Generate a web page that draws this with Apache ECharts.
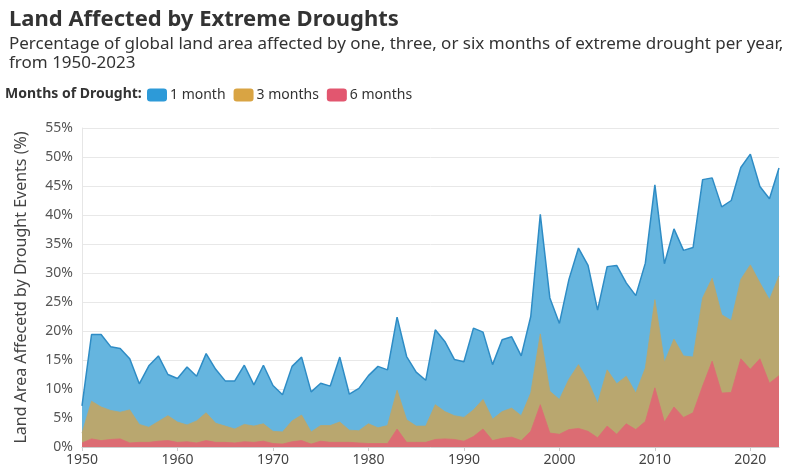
<!DOCTYPE html>
<html>
<head>
<meta charset="utf-8">
<script src="https://cdn.jsdelivr.net/npm/echarts@6/dist/echarts.min.js"></script>
<style>html,body{margin:0;padding:0;background:#fff}#c{width:800px;height:473px}</style>
</head>
<body>
<div id="c"></div>
<script>
const years = [];
for (let y = 1950; y <= 2023; y++) years.push(y);
const oneMonth = [7.1,19.4,19.4,17.3,17.0,15.2,10.9,14.0,15.7,12.5,
  11.8,13.8,12.2,16.1,13.4,11.4,11.4,14.1,10.7,14.1,
  10.6,9.0,13.9,15.5,9.5,11.0,10.5,15.5,9.1,10.1,
  12.3,13.9,13.3,22.4,15.6,12.9,11.5,20.2,18.2,15.1,
  14.7,20.5,19.8,14.2,18.5,19.0,15.7,22.5,40.1,25.7,
  21.3,28.9,34.3,31.3,23.6,31.1,31.3,28.3,26.1,31.7,
  45.2,31.6,37.6,33.9,34.4,46.1,46.4,41.4,42.5,48.2,
  50.5,44.9,42.8,48.1];
const threeMonths = [2.4,7.9,6.9,6.3,6.0,6.4,3.9,3.4,4.4,5.4,
  4.3,3.8,4.5,5.9,4.1,3.6,3.1,3.9,3.6,4.0,
  2.7,2.6,4.5,5.5,2.6,3.7,3.7,4.3,2.9,2.8,
  4.0,3.3,3.7,9.8,4.7,3.6,3.6,7.3,6.1,5.4,
  5.1,6.4,8.2,4.8,6.1,6.7,5.4,9.3,19.5,9.6,
  8.2,11.7,14.2,11.4,7.5,13.3,10.9,12.2,9.3,13.6,
  25.4,14.6,18.6,15.7,15.5,25.7,29.1,22.8,21.8,28.9,
  31.4,28.3,25.4,29.5];
const sixMonths = [0.7,1.4,1.1,1.3,1.4,0.7,0.8,0.8,1.0,1.1,
  0.8,0.9,0.7,1.1,0.8,0.8,0.7,0.9,0.8,1.0,
  0.6,0.5,0.9,1.1,0.5,1.0,0.8,0.8,0.8,0.7,
  0.6,0.6,0.6,3.1,0.8,0.8,0.8,1.3,1.4,1.3,
  1.0,1.8,3.1,1.1,1.5,1.7,1.1,2.7,7.3,2.4,
  2.2,3.0,3.2,2.7,1.6,3.6,2.2,4.0,3.0,4.4,
  10.2,4.3,6.9,5.1,5.9,10.5,14.8,9.3,9.4,15.2,
  13.4,15.2,11.0,12.3];
const seriesNames = ['1 month', '3 months', '6 months'];
const legendColors = ['#2D9AD8', '#D9A443', '#E2566F'];
const fillColors = ['#65B5DF', '#B9A76F', '#DC6C73'];
const lineColors = ['#2E8CC5', '#B9A76F', '#DC6C73'];
const xTicks = [1950, 1960, 1970, 1980, 1990, 2000, 2010, 2020];

const FONT = '"Source Sans Pro", "Noto Sans", sans-serif';
const pairs = arr => arr.map((v, i) => [years[i], v]);
const allData = [oneMonth, threeMonths, sixMonths];

const chart = echarts.init(document.getElementById('c'));
chart.setOption({
  animation: false,
  textStyle: { fontFamily: FONT },
  title: {
    text: 'Land Affected by Extreme Droughts',
    subtext: 'Percentage of global land area affected by one, three, or six months of extreme drought per year,\nfrom 1950-2023',
    left: 4, top: 4, itemGap: 4,
    textStyle: { fontFamily: FONT, fontSize: 22, fontWeight: 'bold', color: '#333' },
    subtextStyle: { fontFamily: FONT, fontSize: 17, color: '#333', lineHeight: 19 }
  },
  graphic: [{
    type: 'text', left: 5, top: 87,
    style: { text: 'Months of Drought:', font: 'bold 14px ' + FONT, fill: '#333' }
  }],
  legend: {
    left: 147, top: 88, padding: 0, itemWidth: 20, itemHeight: 13, itemGap: 8,
    icon: 'roundRect',
    textStyle: { fontFamily: FONT, fontSize: 14, color: '#333', padding: [0, 0, 0, -2] },
    data: seriesNames.map((n, i) => ({ name: n, itemStyle: { color: legendColors[i] } }))
  },
  grid: { left: 82, right: 21, top: 128, bottom: 26 },
  xAxis: {
    type: 'value', min: 1950, max: 2023, interval: 10,
    axisLine: { show: true, lineStyle: { color: '#ccc' } },
    axisTick: { show: true, length: 4, lineStyle: { color: '#ccc' } },
    splitLine: { show: false },
    axisLabel: { color: '#444', fontSize: 14, margin: 6, showMaxLabel: false,
      formatter: v => xTicks.includes(v) ? String(v) : '' }
  },
  yAxis: {
    type: 'value', min: 0, max: 55, interval: 5,
    name: 'Land Area Affecetd by Drought Events (%)',
    nameLocation: 'middle', nameGap: 53, nameRotate: 90,
    nameTextStyle: { fontFamily: FONT, fontSize: 16, color: '#444' },
    axisLine: { show: true, lineStyle: { color: '#e6e6e6' } },
    axisTick: { show: false },
    splitLine: { lineStyle: { color: '#e8e8e8', width: 1 } },
    axisLabel: { color: '#555', fontSize: 14, margin: 9, formatter: '{value}%' }
  },
  series: seriesNames.map((n, i) => ({
    name: n, type: 'line', data: pairs(allData[i]),
    showSymbol: false, symbol: 'none',
    color: legendColors[i],
    lineStyle: { color: lineColors[i], width: i === 0 ? 1.5 : 0.8 },
    areaStyle: { color: fillColors[i], opacity: 1 },
    z: 2 + i
  }))
});
</script>
</body>
</html>
